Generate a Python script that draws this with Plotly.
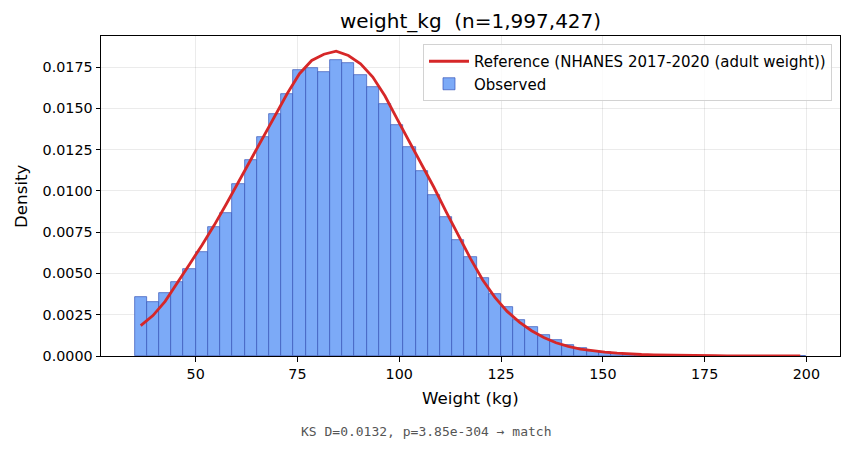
import plotly.graph_objects as go

# ---- data ----
bin_width = 3
bin_starts = list(range(35, 200, 3))  # 35..197
observed = [
    0.00355, 0.00325, 0.00380, 0.00446, 0.00525, 0.00628, 0.00779, 0.00866,
    0.01039, 0.01190, 0.01324, 0.01463, 0.01584, 0.01735, 0.01747, 0.01723,
    0.01790, 0.01772, 0.01705, 0.01627, 0.01524, 0.01397, 0.01263, 0.01118,
    0.00975, 0.00840, 0.00700, 0.00597, 0.00472, 0.00375, 0.00297, 0.00218,
    0.00174, 0.00127, 0.00095, 0.00067, 0.00047, 0.00032, 0.00024, 0.00017,
    0.00012, 0.00009, 0.00007, 0.00005, 0.00004, 0.00003, 0.00002, 0.000015,
    0.00001, 0.00001, 0.000007, 0.000005, 0.000004, 0.000003, 0.000002,
]
reference = [
    0.00184, 0.00245, 0.00331, 0.00440, 0.00556, 0.00670, 0.00790, 0.00919,
    0.01053, 0.01184, 0.01318, 0.01451, 0.01590, 0.01710, 0.01790, 0.01828,
    0.01846, 0.01820, 0.01770, 0.01690, 0.01575, 0.01435, 0.01300, 0.01165,
    0.01022, 0.00875, 0.00730, 0.00590, 0.00460, 0.00355, 0.00270, 0.00205,
    0.00153, 0.00112, 0.00080, 0.00058, 0.00042, 0.00031, 0.00023, 0.00017,
    0.00012, 0.00009, 0.00007, 0.00005, 0.00004, 0.00003, 0.00002, 0.000015,
    0.00001, 0.000008, 0.000006, 0.000005, 0.000004, 0.000003, 0.000002,
]
centers = [s + bin_width / 2 for s in bin_starts]
x_ticks = [50, 75, 100, 125, 150, 175, 200]
y_ticks = [0.0, 0.0025, 0.005, 0.0075, 0.01, 0.0125, 0.015, 0.0175]
title_text = "weight_kg  (n=1,997,427)"
ref_label = "Reference (NHANES 2017-2020 (adult weight))"
obs_label = "Observed"
ks_text = "KS D=0.0132, p=3.85e-304 → match"

FONT = "DejaVu Sans"

fig = go.Figure()
fig.add_trace(go.Scatter(
    x=centers, y=reference, mode="lines", name=ref_label,
    line=dict(color="#d62728", width=2.8),
))
fig.add_trace(go.Bar(
    x=centers, y=observed, width=bin_width, name=obs_label,
    marker=dict(color="rgb(124,170,247)", line=dict(color="rgb(55,85,185)", width=0.7)),
))

xmin, xmax = 35, 200
pad = (xmax - xmin) * 0.05
ymax = max(reference) * 1.05

axis_common = dict(
    showline=True, linecolor="black", linewidth=1, mirror=True,
    ticks="outside", ticklen=4.5, tickcolor="black", tickwidth=1,
    showgrid=True, gridcolor="rgba(0,0,0,0.08)", gridwidth=1,
    zeroline=False, tickfont=dict(family=FONT, size=14.3, color="black"),
)

fig.update_layout(
    width=852, height=449,
    margin=dict(l=101, r=12, t=36, b=93),
    paper_bgcolor="white", plot_bgcolor="white",
    bargap=0,
    font=dict(family=FONT, color="black"),
    title=dict(text=title_text, x=0.5, xref="paper", xanchor="center",
               y=1 - 21 / 449, yref="container", yanchor="middle",
               font=dict(family=FONT, size=20, color="black")),
    xaxis=dict(range=[xmin - pad, xmax + pad], tickvals=x_ticks, **axis_common),
    yaxis=dict(range=[0, ymax], tickvals=y_ticks, tickformat=".4f", **axis_common),
    legend=dict(x=(832 - 101) / 739, y=(356 - 44) / 320, xanchor="right", yanchor="top",
                bordercolor="rgb(210,210,210)", borderwidth=1,
                bgcolor="rgba(255,255,255,0.8)",
                font=dict(family=FONT, size=15, color="black"),
                tracegroupgap=0, itemwidth=40),
    showlegend=True,
)

fig.add_annotation(text="Weight (kg)", xref="paper", yref="paper",
                   x=0.5, y=-42 / 320, yanchor="middle", showarrow=False,
                   font=dict(family=FONT, size=16.7, color="black"))
fig.add_annotation(text="Density", xref="paper", yref="paper",
                   x=-80 / 739, y=0.5, xanchor="center", yanchor="middle",
                   textangle=-90, showarrow=False,
                   font=dict(family=FONT, size=16.7, color="black"))
fig.add_annotation(text=ks_text, xref="paper", yref="paper",
                   x=(426 - 101) / 739, y=-(431 - 356) / 320,
                   xanchor="center", yanchor="middle", showarrow=False,
                   font=dict(family="DejaVu Sans Mono", size=13, color="#555555"))

fig.write_html("out.html")
